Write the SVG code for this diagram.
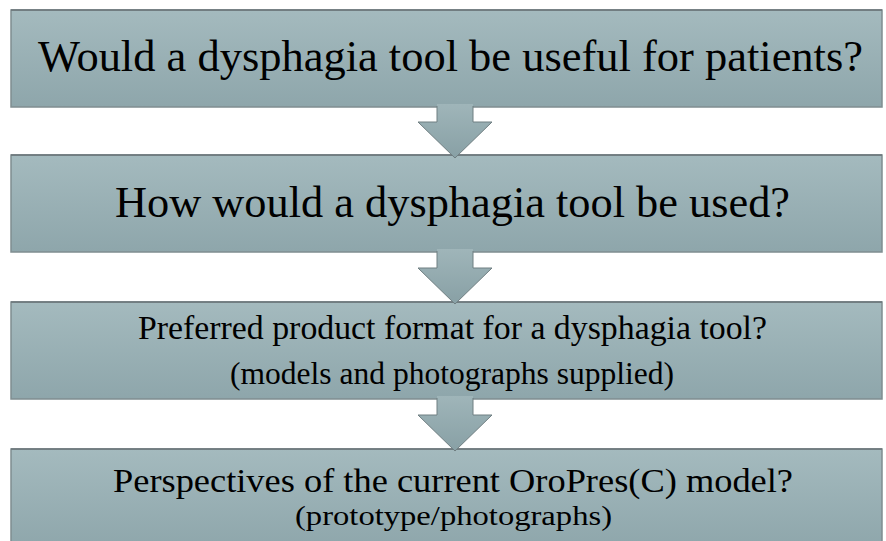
<svg xmlns="http://www.w3.org/2000/svg" width="886" height="541" viewBox="0 0 886 541">
  <defs>
    <linearGradient id="boxFill" x1="0" y1="0" x2="0" y2="1">
      <stop offset="0" stop-color="#a4babe"/>
      <stop offset="1" stop-color="#8ea6ab"/>
    </linearGradient>
    <linearGradient id="arrowFill" x1="0" y1="0" x2="0" y2="1">
      <stop offset="0" stop-color="#9fb5b9"/>
      <stop offset="1" stop-color="#88a0a5"/>
    </linearGradient>
  </defs>
  <style>
    .box { fill: url(#boxFill); stroke: #7f8d90; stroke-width: 1.5; }
    .boxTop { stroke: #6a7578; stroke-width: 1.5; }
    .arrowFill { fill: url(#arrowFill); stroke: none; }
    .arrowEdge { fill: none; stroke: #6f7e81; stroke-width: 1; stroke-linejoin: miter; }
    text { font-family: "Liberation Serif", "Times New Roman", serif; fill: #000; text-anchor: middle; }
    .big { font-size: 44px; }
    .mid { font-size: 33px; }
    .mid2 { font-size: 31px; }
    .p4 { font-size: 33px; }
    .small { font-size: 27px; }
  </style>

  <rect x="0" y="0" width="886" height="541" fill="#ffffff"/>

  <g id="node1">
    <rect class="box" x="11" y="10" width="871" height="97"/>
    <line class="boxTop" x1="11" y1="10" x2="882" y2="10"/>
    <text class="big" x="450.5" y="71" textLength="825" lengthAdjust="spacingAndGlyphs">Would a dysphagia tool be useful for patients?</text>
  </g>

  <g id="node2">
    <rect class="box" x="11" y="155" width="871" height="97"/>
    <line class="boxTop" x1="11" y1="155" x2="882" y2="155"/>
    <text class="big" x="452.5" y="217" textLength="675" lengthAdjust="spacingAndGlyphs">How would a dysphagia tool be used?</text>
  </g>

  <g id="node3">
    <rect class="box" x="11" y="302" width="871" height="97"/>
    <line class="boxTop" x1="11" y1="302" x2="882" y2="302"/>
    <text class="mid" x="452.5" y="339" textLength="629" lengthAdjust="spacingAndGlyphs">Preferred product format for a dysphagia tool?</text>
    <text class="mid2" x="452" y="384" textLength="444" lengthAdjust="spacingAndGlyphs">(models and photographs supplied)</text>
  </g>

  <g id="node4">
    <rect class="box" x="11" y="449" width="871" height="100"/>
    <line class="boxTop" x1="11" y1="449" x2="882" y2="449"/>
    <text class="p4" x="453" y="492" textLength="680" lengthAdjust="spacingAndGlyphs">Perspectives of the current OroPres(C) model?</text>
    <text class="small" x="453.5" y="525" textLength="317" lengthAdjust="spacingAndGlyphs">(prototype/photographs)</text>
  </g>

  <g id="connectors">
    <g id="arrow1">
      <polygon class="arrowFill" points="437,104 473,104 473,122 492,122 455,158 418,122 437,122"/>
      <polyline class="arrowEdge" points="437,106 437,122 418,122 455,158 492,122 473,122 473,106"/>
    </g>
    <g id="arrow2">
      <polygon class="arrowFill" points="437,249 473,249 473,268 492,268 455,304 418,268 437,268"/>
      <polyline class="arrowEdge" points="437,251 437,268 418,268 455,304 492,268 473,268 473,251"/>
    </g>
    <g id="arrow3">
      <polygon class="arrowFill" points="437,396 473,396 473,415 492,415 455,451 418,415 437,415"/>
      <polyline class="arrowEdge" points="437,398 437,415 418,415 455,451 492,415 473,415 473,398"/>
    </g>
  </g>
</svg>
